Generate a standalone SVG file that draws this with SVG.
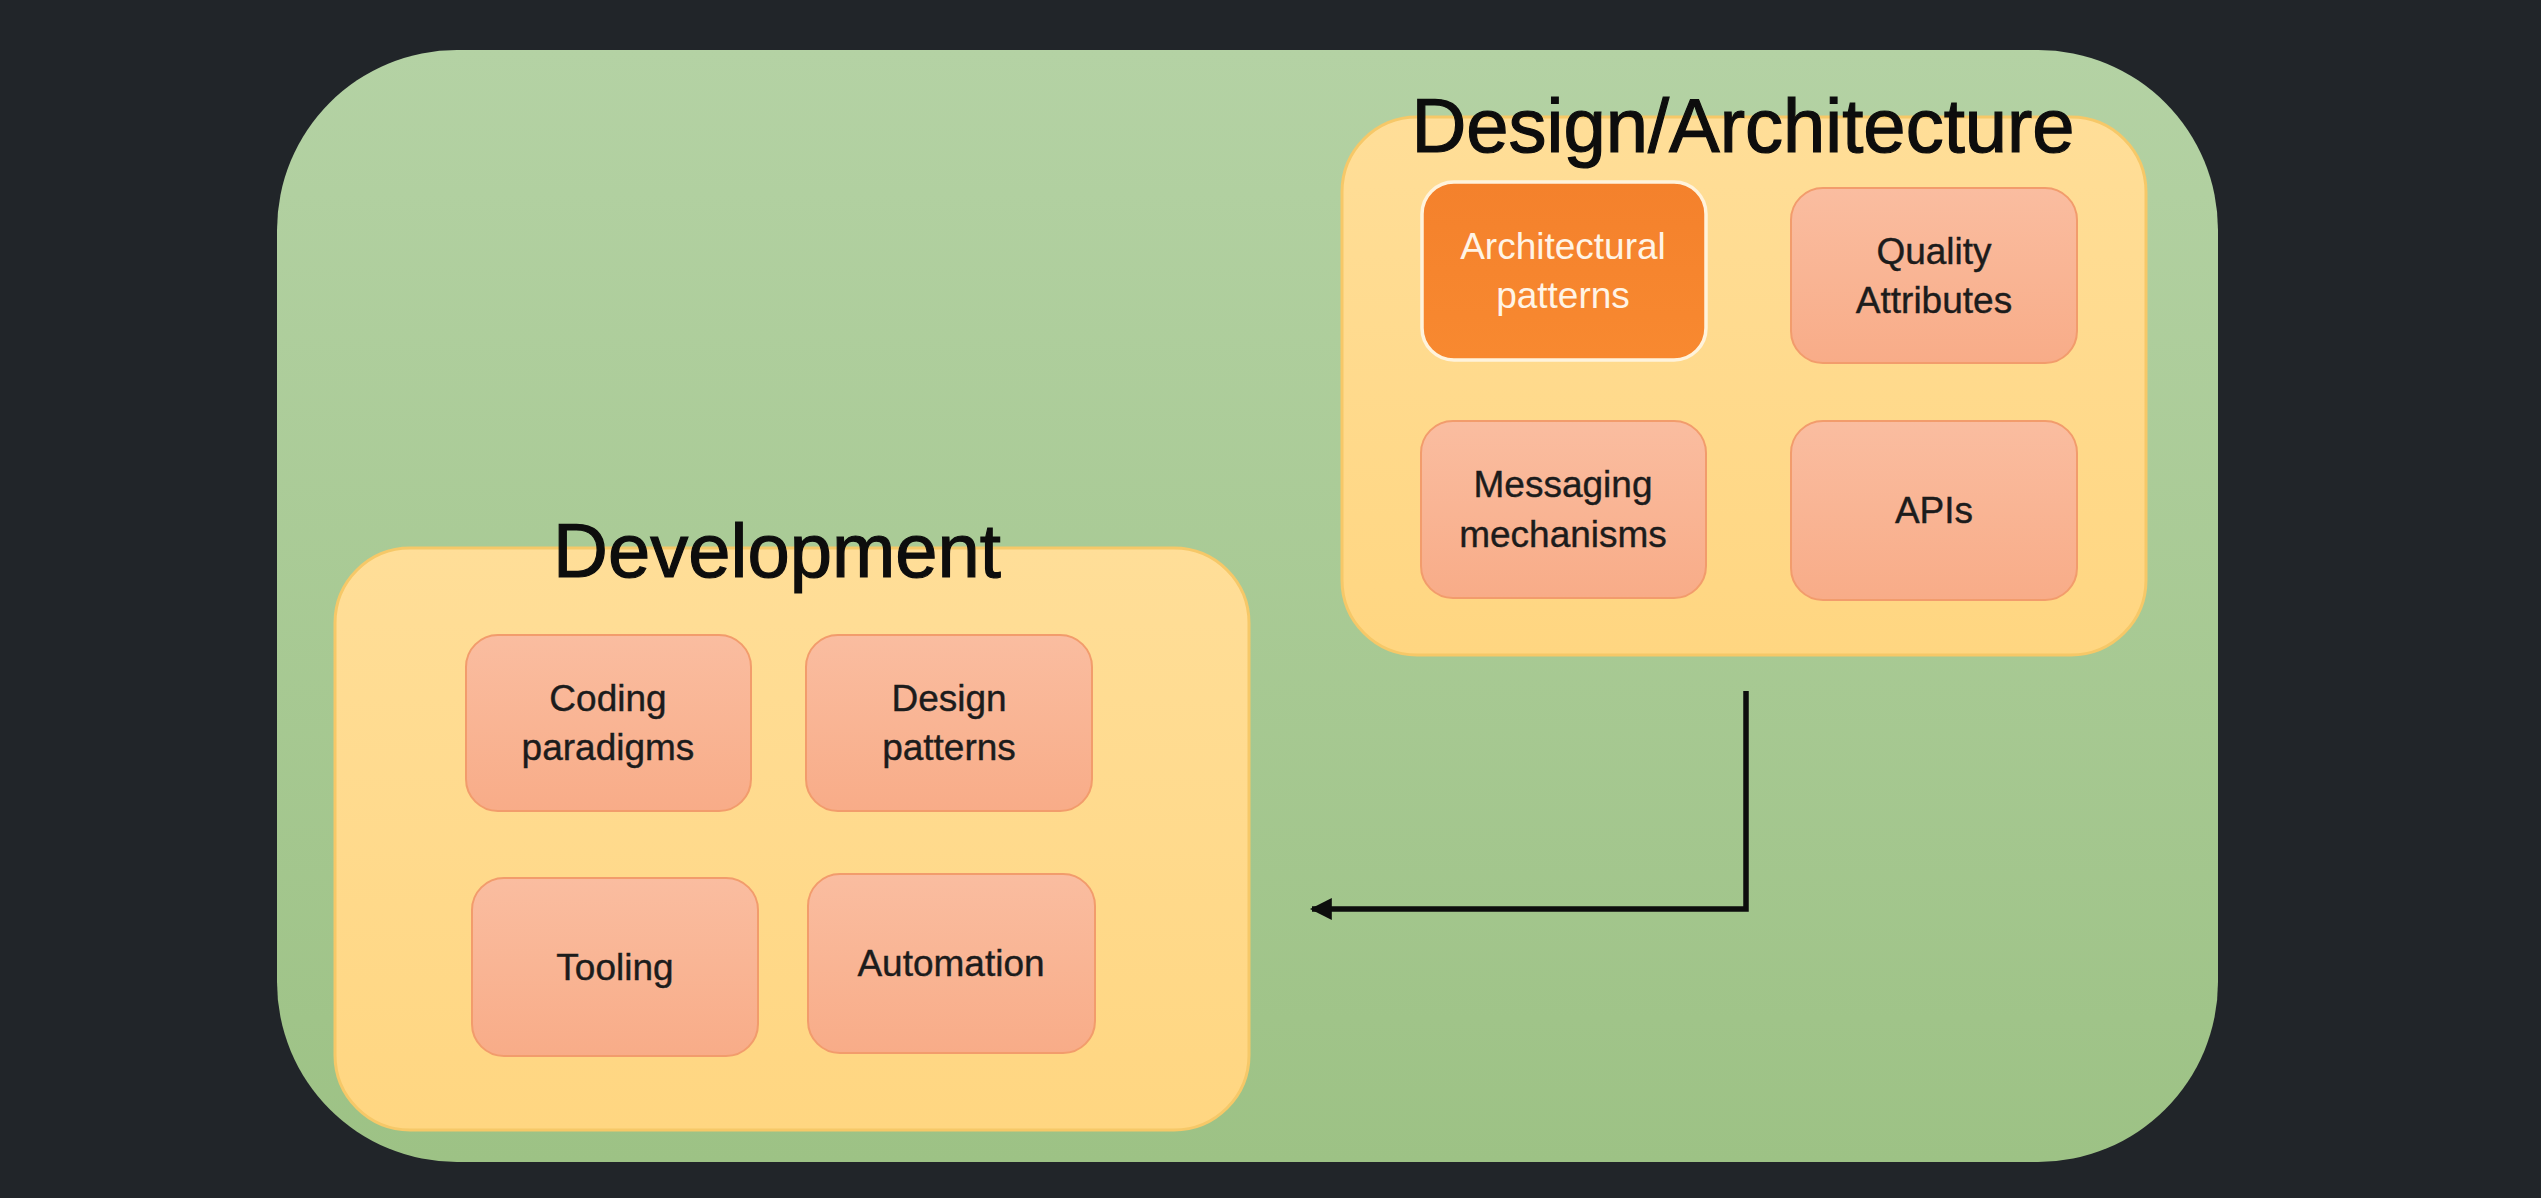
<svg xmlns="http://www.w3.org/2000/svg" width="2541" height="1198" viewBox="0 0 2541 1198">
<defs>
<linearGradient id="gGreen" x1="0" y1="0" x2="0" y2="1">
<stop offset="0" stop-color="#B4D2A4"/>
<stop offset="1" stop-color="#9DC285"/>
</linearGradient>
<linearGradient id="gYellow" x1="0" y1="0" x2="0" y2="1">
<stop offset="0" stop-color="#FFDE98"/>
<stop offset="1" stop-color="#FFD681"/>
</linearGradient>
<linearGradient id="gSalmon" x1="0" y1="0" x2="0" y2="1">
<stop offset="0" stop-color="#FABDA0"/>
<stop offset="1" stop-color="#F8AC88"/>
</linearGradient>
<linearGradient id="gOrange" x1="0" y1="0" x2="0" y2="1">
<stop offset="0" stop-color="#F4812C"/>
<stop offset="1" stop-color="#F88930"/>
</linearGradient>
<marker id="arrow" viewBox="0 0 10 10" refX="9" refY="5" markerWidth="4" markerHeight="4" markerUnits="strokeWidth" orient="auto">
<path d="M0,0 L10,5 L0,10 Z" fill="#0d0d0d"/>
</marker>
</defs>
<style>
.group{fill:url(#gYellow);stroke:#F6C868;stroke-width:3}
.item{fill:url(#gSalmon);stroke:#F29C6C;stroke-width:2}
.hl{fill:url(#gOrange);stroke:#FFF3DC;stroke-width:3.5}
.title{font-family:"Liberation Sans",Arial,sans-serif;font-size:76px;fill:#0d0d0d;stroke:#0d0d0d;stroke-width:1.2;text-anchor:middle}
.lbl{font-family:"Liberation Sans",Arial,sans-serif;font-size:37px;fill:#1c1c1c;stroke:#1c1c1c;stroke-width:0.4;text-anchor:middle}
.lblw{font-family:"Liberation Sans",Arial,sans-serif;font-size:37px;fill:#FFF4E6;text-anchor:middle}
.conn{fill:none;stroke:#0d0d0d;stroke-width:5.5}
</style>
<rect x="0" y="0" width="2541" height="1198" fill="#212529"/>
<g id="container">
<rect x="277" y="50" width="1941" height="1112" rx="180" ry="180" fill="url(#gGreen)"/>
</g>
<g id="design-architecture">
<rect class="group" x="1342" y="117" width="804" height="538" rx="75" ry="75"/>
<text class="title" x="1743" y="152">Design/Architecture</text>
</g>
<g id="architectural-patterns">
<rect class="hl" x="1422" y="182" width="284" height="178" rx="32" ry="32"/>
<text class="lblw" x="1563" y="259">Architectural</text>
<text class="lblw" x="1563" y="308">patterns</text>
</g>
<g id="quality-attributes">
<rect class="item" x="1791" y="188" width="286" height="175" rx="32" ry="32"/>
<text class="lbl" x="1934" y="264">Quality</text>
<text class="lbl" x="1934" y="313">Attributes</text>
</g>
<g id="messaging-mechanisms">
<rect class="item" x="1421" y="421" width="285" height="177" rx="32" ry="32"/>
<text class="lbl" x="1563" y="497">Messaging</text>
<text class="lbl" x="1563" y="547">mechanisms</text>
</g>
<g id="apis">
<rect class="item" x="1791" y="421" width="286" height="179" rx="32" ry="32"/>
<text class="lbl" x="1934" y="523">APIs</text>
</g>
<g id="development">
<rect class="group" x="335" y="548" width="914" height="582" rx="75" ry="75"/>
<text class="title" x="777" y="577">Development</text>
</g>
<g id="coding-paradigms">
<rect class="item" x="466" y="635" width="285" height="176" rx="32" ry="32"/>
<text class="lbl" x="608" y="711">Coding</text>
<text class="lbl" x="608" y="760">paradigms</text>
</g>
<g id="design-patterns">
<rect class="item" x="806" y="635" width="286" height="176" rx="32" ry="32"/>
<text class="lbl" x="949" y="711">Design</text>
<text class="lbl" x="949" y="760">patterns</text>
</g>
<g id="tooling">
<rect class="item" x="472" y="878" width="286" height="178" rx="32" ry="32"/>
<text class="lbl" x="615" y="980">Tooling</text>
</g>
<g id="automation">
<rect class="item" x="808" y="874" width="287" height="179" rx="32" ry="32"/>
<text class="lbl" x="951" y="976">Automation</text>
</g>
<g id="connectors">
<path class="conn" d="M1746,691 L1746,909 L1312,909" marker-end="url(#arrow)"/>
</g>
</svg>
